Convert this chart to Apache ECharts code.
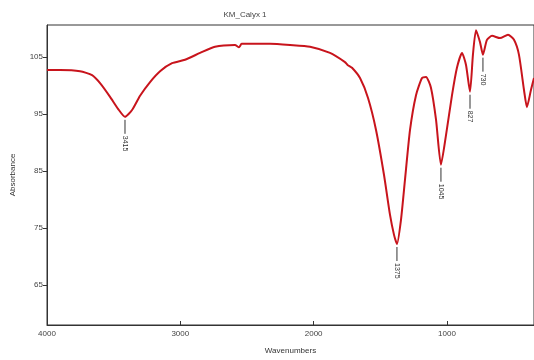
<!DOCTYPE html>
<html>
<head>
<meta charset="utf-8">
<script src="https://cdn.jsdelivr.net/npm/echarts@6/dist/echarts.min.js"></script>
<style>
  html, body { margin: 0; padding: 0; background: #fff; }
  #chart { width: 534px; height: 360px; }
</style>
</head>
<body>
<div id="chart"></div>
<script>
// spectrum
const wavenumbers = [4000, 3902, 3752, 3662, 3602, 3527, 3467, 3415, 3362, 3302, 3227, 3152, 3062, 2965, 2852, 2740, 2590, 2560, 2540, 2477, 2327, 2177, 2027, 1877, 1765, 1745, 1712, 1652, 1592, 1532, 1472, 1427, 1397, 1375, 1345, 1315, 1277, 1232, 1187, 1157, 1120, 1082, 1045, 1007, 962, 925, 887, 857, 827, 805, 782, 752, 730, 700, 662, 602, 542, 497, 460, 422, 400, 370, 347]
const transmittance = [102.7, 102.7, 102.5, 101.8, 100.4, 98.0, 95.9, 94.5, 95.7, 98.2, 100.6, 102.5, 103.9, 104.5, 105.7, 106.8, 107.1, 106.7, 107.3, 107.3, 107.3, 107.1, 106.8, 105.7, 104.1, 103.6, 103.1, 101.3, 97.8, 92.2, 84.3, 77.3, 73.8, 72.2, 76.4, 83.4, 92.2, 98.3, 101.3, 101.5, 99.6, 94.0, 86.1, 91.3, 98.3, 103.1, 105.7, 103.6, 98.9, 105.4, 109.7, 107.6, 105.4, 108.0, 108.7, 108.3, 108.9, 108.0, 105.4, 99.2, 96.2, 99.2, 101.3]

// labelled peaks
const peakWn = [3415, 1375, 1045, 827, 730]
const peakVal = [94.5, 72.2, 86.1, 98.9, 105.4]
const peakText = ['3415', '1375', '1045', '827', '730']

const xTicks = [4000, 3000, 2000, 1000]
const yTicks = [65, 75, 85, 95, 105]

const chart = echarts.init(document.getElementById('chart'))

const font = 'Arial, "Liberation Sans", sans-serif'

const option = {
  animation: false,
  title: {
    text: 'KM_Calyx 1',
    left: 240,
    top: 6,
    textAlign: 'center',
    textStyle: { fontSize: 8, fontWeight: 'normal', color: '#444', fontFamily: font }
  },
  grid: {
    left: 47,
    top: 25,
    right: 0,
    bottom: 35,
    show: true,
    borderColor: '#333',
    borderWidth: 1
  },
  xAxis: {
    type: 'value',
    inverse: true,
    min: 347,
    max: 4000,
    name: 'Wavenumbers',
    nameLocation: 'middle',
    nameGap: 22,
    nameTextStyle: { fontSize: 8, color: '#333', fontFamily: font },
    axisLine: { show: true, lineStyle: { color: '#333' } },
    splitLine: { show: false },
    axisTick: { inside: true, length: 4, customValues: xTicks, lineStyle: { color: '#333' } },
    axisLabel: {
      customValues: xTicks,
      formatter: v => String(v),
      fontSize: 8,
      color: '#444',
      margin: 5,
      fontFamily: font
    }
  },
  yAxis: {
    type: 'value',
    min: 58,
    max: 110.6,
    name: 'Absorbance',
    nameLocation: 'middle',
    nameGap: 30,
    nameTextStyle: { fontSize: 8, color: '#333', fontFamily: font },
    axisLine: { show: true, lineStyle: { color: '#333' } },
    splitLine: { show: false },
    axisTick: { length: 4, customValues: yTicks, lineStyle: { color: '#333' } },
    axisLabel: { customValues: yTicks, fontSize: 8, color: '#444', margin: 4, fontFamily: font }
  },
  series: [
    {
      type: 'line',
      data: wavenumbers.map((w, i) => [w, transmittance[i]]),
      showSymbol: false,
      smooth: 0.2,
      lineStyle: { color: '#c8141c', width: 2 },
      z: 3
    },
    {
      type: 'custom',
      data: peakWn.map((w, i) => [w, peakVal[i]]),
      renderItem: (params, api) => {
        const p = api.coord([api.value(0), api.value(1)])
        const label = peakText[params.dataIndex]
        return {
          type: 'group',
          children: [
            {
              type: 'line',
              shape: { x1: p[0], y1: p[1] + 3, x2: p[0], y2: p[1] + 17 },
              style: { stroke: '#333', lineWidth: 1 }
            },
            {
              type: 'text',
              x: p[0],
              y: p[1] + 19,
              rotation: -Math.PI / 2,
              style: {
                text: label,
                fontSize: 7,
                fill: '#333',
                fontFamily: font,
                align: 'left',
                verticalAlign: 'middle'
              }
            }
          ]
        }
      },
      z: 4
    }
  ]
}

chart.setOption(option)
</script>
</body>
</html>
